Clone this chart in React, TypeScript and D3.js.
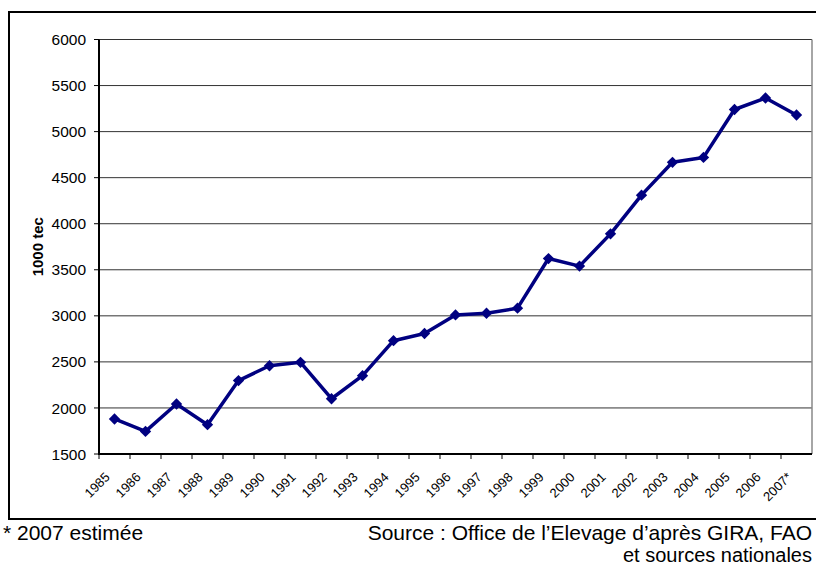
import React from "react";
import * as d3 from "d3";

const WIDTH = 816;
const HEIGHT = 567;
const PLOT = { left: 99, right: 812, top: 39.5, bottom: 454 };

const years = [
  "1985", "1986", "1987", "1988", "1989", "1990", "1991", "1992", "1993", "1994", "1995", "1996",
  "1997", "1998", "1999", "2000", "2001", "2002", "2003", "2004", "2005", "2006", "2007*",
];
const values = [
  1880, 1745, 2043, 1818, 2297, 2458, 2495, 2100, 2350, 2730, 2808, 3010,
  3028, 3083, 3622, 3540, 3890, 4310, 4667, 4720, 5240, 5365, 5180,
];
const yTicks = [1500, 2000, 2500, 3000, 3500, 4000, 4500, 5000, 5500, 6000];

const FONT = "Arial, 'Liberation Sans', sans-serif";

export default function App() {
  const xScale = d3.scaleBand<string>().domain(years).range([PLOT.left, PLOT.right]);
  const yScale = d3.scaleLinear().domain([1500, 6000]).range([PLOT.bottom, PLOT.top]);
  const cx = (d: string) => (xScale(d) ?? 0) + xScale.bandwidth() / 2;

  const line = d3
    .line<number>()
    .x((_, i) => cx(years[i]))
    .y((v) => yScale(v));

  const diamond = d3.symbol(d3.symbolSquare, 64)() ?? "";

  return (
    <svg
      width={WIDTH}
      height={HEIGHT}
      style={{ position: "absolute", left: 0, top: 0, background: "#fff" }}
      fontFamily={FONT}
    >
      {/* outer frame */}
      <rect x={9} y={12} width={812} height={507} fill="none" stroke="#000" strokeWidth={2} />

      {/* grid */}
      {yTicks.slice(1).map((t) => (
        <line key={t} x1={PLOT.left} x2={PLOT.right} y1={yScale(t)} y2={yScale(t)} stroke="#333" strokeWidth={1} />
      ))}
      <line x1={PLOT.right} x2={PLOT.right} y1={PLOT.top} y2={PLOT.bottom} stroke="#888" strokeWidth={1.5} />

      {/* y axis */}
      <line x1={PLOT.left} x2={PLOT.left} y1={PLOT.top} y2={PLOT.bottom + 1} stroke="#000" strokeWidth={2} />
      {yTicks.map((t) => (
        <g key={t}>
          <line x1={PLOT.left - 5} x2={PLOT.left} y1={yScale(t)} y2={yScale(t)} stroke="#000" strokeWidth={1} />
          <text x={86} y={yScale(t)} dy="0.36em" textAnchor="end" fontSize={15.5} fill="#000">
            {t}
          </text>
        </g>
      ))}
      <text
        transform={`translate(43,${(PLOT.top + PLOT.bottom) / 2}) rotate(-90)`}
        textAnchor="middle"
        fontSize={15}
        fontWeight="bold"
      >
        1000 tec
      </text>

      {/* x axis */}
      <line x1={PLOT.left - 1} x2={PLOT.right} y1={PLOT.bottom} y2={PLOT.bottom} stroke="#000" strokeWidth={2} />
      {years.map((d) => (
        <line key={d} x1={xScale(d)} x2={xScale(d)} y1={PLOT.bottom} y2={PLOT.bottom + 5} stroke="#000" strokeWidth={1} />
      ))}
      {years.map((d) => (
        <text
          key={d}
          transform={`translate(${cx(d) - 4},${PLOT.bottom + 24}) rotate(-45)`}
          textAnchor="end"
          fontSize={13}
        >
          {d}
        </text>
      ))}

      {/* series */}
      <path d={line(values) ?? ""} fill="none" stroke="#000080" strokeWidth={3.5} strokeLinejoin="round" />
      {values.map((v, i) => (
        <path
          key={years[i]}
          d={diamond}
          transform={`translate(${cx(years[i])},${yScale(v)}) rotate(45)`}
          fill="#000080"
        />
      ))}

      {/* footer */}
      <text x={3} y={540} fontSize={21}>
        * 2007 estimée
      </text>
      <text x={812} y={540} textAnchor="end" fontSize={21}>
        Source : Office de l’Elevage d’après GIRA, FAO
      </text>
      <text x={812} y={562} textAnchor="end" fontSize={20}>
        et sources nationales
      </text>
    </svg>
  );
}
